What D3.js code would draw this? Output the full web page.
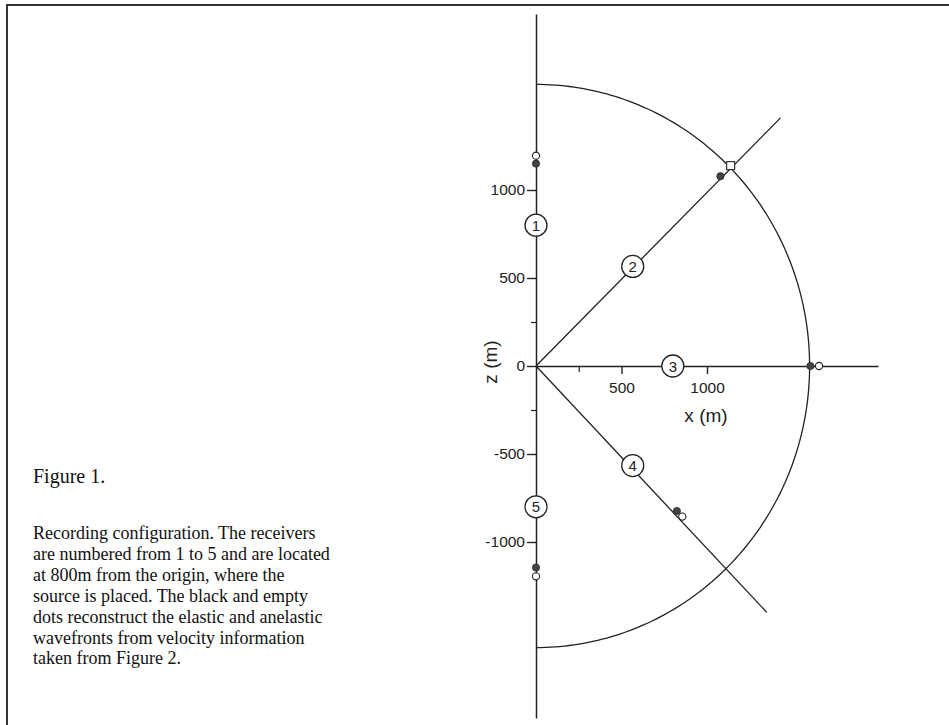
<!DOCTYPE html>
<html>
<head>
<meta charset="utf-8">
<script src="https://cdn.jsdelivr.net/npm/d3@7"></script>
<style>
  html, body { margin: 0; padding: 0; background: #fff; }
  svg { display: block; }
</style>
</head>
<body>
<svg id="chart" width="949" height="725"></svg>
<script>
// ---- data (metres) ----
const receiverIds = [1, 2, 3, 4, 5];
const receiverAngles = [90, 45, 0, -45, -90];          // degrees from +x axis
const receiverDistance = 800;                          // label position along ray
const elasticRadius = [1150, 1525, 1605, 1165, 1145];  // black dots
const anelasticRadius = [1195, 1610, 1655, 1210, 1195];// empty dots
const anelasticShape = ["circle", "square", "circle", "circle", "circle"];
const wavefrontRadius = 1600;
const rayEnds = [[1430, 1410], [1350, -1400]];        // diagonal ray end points
const zMajorTicks = [-1000, -500, 0, 500, 1000];
const zMinorTicks = [-250, 250];
const xMajorTicks = [500, 1000];
const xMinorTicks = [250];
const xDomain = [0, 2000];
const zDomain = [-2000, 2000];
const captionTitle = "Figure 1.";
const captionLines = [
  "Recording configuration. The receivers",
  "are numbered from 1 to 5 and are located",
  "at 800m from the origin, where the",
  "source is placed. The black and empty",
  "dots reconstruct the elastic and anelastic",
  "wavefronts from velocity information",
  "taken from Figure 2."
];

// ---- drawing ----
const svg = d3.select("#chart");
const ink = "#222";
const sans = "Liberation Sans, Arial, sans-serif";

const x = d3.scaleLinear().domain(xDomain).range([536, 878]);
const z = d3.scaleLinear().domain(zDomain).range([718, 14]);

// frame
svg.append("line").attr("x1", 6).attr("x2", 949).attr("y1", 5).attr("y2", 5)
  .attr("stroke", "#333").attr("stroke-width", 2);
svg.append("line").attr("x1", 7).attr("x2", 7).attr("y1", 4).attr("y2", 725)
  .attr("stroke", "#333").attr("stroke-width", 2);

const g = svg.append("g");
const fmt = d => String(d);

// z axis (vertical)
const zAxis = d3.axisLeft(z).tickValues(zMajorTicks).tickSizeInner(9).tickSizeOuter(0)
  .tickPadding(2).tickFormat(fmt);
const zAx = g.append("g").attr("transform", `translate(${x(0)},0)`).call(zAxis);
zAx.select(".domain").attr("stroke", ink).attr("stroke-width", 1.5);
zAx.selectAll(".tick line").attr("stroke", ink).attr("stroke-width", 1.4);
zAx.selectAll(".tick text").attr("font-family", sans)
  .attr("font-size", 15.5).attr("fill", ink);
const zMinor = d3.axisLeft(z).tickValues(zMinorTicks).tickSizeInner(5).tickSizeOuter(0).tickFormat("");
const zMi = g.append("g").attr("transform", `translate(${x(0)},0)`).call(zMinor);
zMi.select(".domain").remove();
zMi.selectAll(".tick line").attr("stroke", ink).attr("stroke-width", 1.2);

// x axis (horizontal)
const xAxis = d3.axisBottom(x).tickValues(xMajorTicks).tickSizeInner(8).tickSizeOuter(0)
  .tickPadding(8).tickFormat(fmt);
const xAx = g.append("g").attr("transform", `translate(0,${z(0)})`).call(xAxis);
xAx.select(".domain").attr("stroke", ink).attr("stroke-width", 1.5);
xAx.selectAll(".tick line").attr("stroke", ink).attr("stroke-width", 1.4);
xAx.selectAll(".tick text").attr("font-family", sans)
  .attr("font-size", 15.5).attr("fill", ink);
const xMinor = d3.axisBottom(x).tickValues(xMinorTicks).tickSizeInner(6).tickSizeOuter(0).tickFormat("");
const xMi = g.append("g").attr("transform", `translate(0,${z(0)})`).call(xMinor);
xMi.select(".domain").remove();
xMi.selectAll(".tick line").attr("stroke", ink).attr("stroke-width", 1.2);

// axis titles
g.append("text").attr("x", 706).attr("y", 422).attr("text-anchor", "middle")
  .attr("font-family", sans).attr("font-size", 19)
  .attr("fill", ink).text("x (m)");
g.append("text").attr("transform", `translate(497,${z(0) - 4}) rotate(-90)`)
  .attr("text-anchor", "middle")
  .attr("font-family", sans).attr("font-size", 19)
  .attr("fill", ink).text("z (m)");

// wavefront semicircle
const arcPts = d3.range(-90, 90.5, 1).map(a => {
  const r = a * Math.PI / 180;
  return [wavefrontRadius * Math.cos(r), wavefrontRadius * Math.sin(r)];
});
g.append("path")
  .attr("d", d3.line().x(d => x(d[0])).y(d => z(d[1]))(arcPts))
  .attr("fill", "none").attr("stroke", ink).attr("stroke-width", 1.3);

// diagonal rays
rayEnds.forEach(e => {
  g.append("line").attr("x1", x(0)).attr("y1", z(0))
    .attr("x2", x(e[0])).attr("y2", z(e[1]))
    .attr("stroke", ink).attr("stroke-width", 1.3);
});

const polar = (r, a) => {
  const t = a * Math.PI / 180;
  return [x(r * Math.cos(t)), z(r * Math.sin(t))];
};

// receiver labels
receiverIds.forEach((id, i) => {
  const [px, py] = polar(receiverDistance, receiverAngles[i]);
  g.append("circle").attr("cx", px).attr("cy", py).attr("r", 11)
    .attr("fill", "#fff").attr("stroke", ink).attr("stroke-width", 1.3);
  g.append("text").attr("x", px).attr("y", py + 5.5).attr("text-anchor", "middle")
    .attr("font-family", sans).attr("font-size", 15)
    .attr("fill", ink).text(id);
});

// elastic (black) dots
receiverAngles.forEach((a, i) => {
  const [px, py] = polar(elasticRadius[i], a);
  g.append("circle").attr("cx", px).attr("cy", py).attr("r", 3.6)
    .attr("fill", "#444").attr("stroke", "#222").attr("stroke-width", 0.8);
});
// anelastic (empty) dots
receiverAngles.forEach((a, i) => {
  const [px, py] = polar(anelasticRadius[i], a);
  if (anelasticShape[i] === "square") {
    g.append("rect").attr("x", px - 4).attr("y", py - 4).attr("width", 8).attr("height", 8)
      .attr("fill", "#fff").attr("stroke", ink).attr("stroke-width", 1.1);
  } else {
    g.append("circle").attr("cx", px).attr("cy", py).attr("r", 3.6)
      .attr("fill", "#fff").attr("stroke", ink).attr("stroke-width", 1.1);
  }
});

// caption
const cap = svg.append("g").attr("font-family", "Liberation Serif, Times New Roman, serif")
  .attr("fill", "#111");
cap.append("text").attr("x", 33).attr("y", 483).attr("font-size", 20).text(captionTitle);
captionLines.forEach((t, i) => {
  cap.append("text").attr("x", 33).attr("y", 539 + i * 20.9).attr("font-size", 18).text(t);
});
</script>
</body>
</html>
